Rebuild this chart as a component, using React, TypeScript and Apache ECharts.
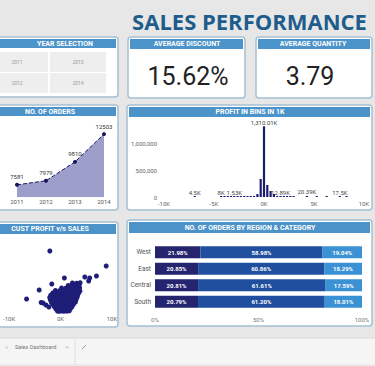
import React, { useEffect, useRef } from 'react';
import * as echarts from 'echarts';

// ---------- data ----------
const years = ['2011', '2012', '2013', '2014'];
const orderCounts = [7581, 7979, 9810, 12503];

const yearButtons = ['2011', '2013', '2012', '2014'];
const avgDiscountPct = 15.62;
const avgQuantity = 3.79;

// profit bins (bin centre in profit units) and bar values
const histBins = [-6930, -4290, -3960, -3630, -3300, -2970, -2640, -2310, -1980, -1650, -1320, -990, -660, -330, 0, 330, 660, 990, 1320, 1650, 1980, 2310, 2640, 2970, 4290, 5280, 6270, 7590, 8250];
const histValues = [4500, 8000, 2000, 1500, 2500, 1530, 3000, 4000, 5000, 7000, 9000, 15000, 55000, 333000, 1310010, 222000, 111000, 55000, 9000, 12890, 6000, 4000, 3000, 2000, 20390, 2000, 1500, 17500, 1000];
const histLabeledBins = [-6930, -4290, -2970, 0, 1650, 4290, 7590];

// customer [profit, sales]
const custProfitSales: [number, number][] = [
  [-2080, 24800], [8870, 18800], [-6600, 5600], [-4150, 9200], [750, 14000], [4720, 14400],
  [5660, 14000], [6980, 14800], [5470, 12800], [3770, 8800], [-1700, 11600], [-3400, 4000],
  [-2830, 3200], [-2260, 2400], [-3770, 4200],
  [-600, 800], [-250, 700], [100, 900], [400, 800], [700, 750], [1000, 850], [1300, 800], [1700, 900],
  [-900, 1600], [-400, 1500], [0, 1700], [300, 1600], [650, 1550], [1100, 1650], [1500, 1600], [1900, 1700],
  [-1200, 2500], [-700, 2400], [-300, 2600], [200, 2500], [500, 2450], [900, 2550], [1400, 2500], [1800, 2600], [2200, 2400],
  [-1500, 3400], [-1000, 3300], [-500, 3500], [0, 3400], [400, 3350], [800, 3450], [1200, 3400], [1700, 3500], [2100, 3300], [2500, 3400],
  [-1800, 4300], [-1100, 4200], [-600, 4400], [-100, 4300], [300, 4250], [700, 4350], [1200, 4300], [1600, 4400], [2000, 4200], [2500, 4300], [2900, 4400],
  [-2000, 5300], [-1400, 5200], [-700, 5400], [100, 5300], [600, 5250], [1000, 5350], [1500, 5300], [2100, 5400], [2600, 5200], [3000, 5300],
  [-2100, 6200], [-1500, 6100], [-800, 6300], [0, 6200], [500, 6150], [1100, 6250], [1700, 6200], [2300, 6300], [2800, 6100], [3200, 6200],
  [-1900, 7100], [-1200, 7000], [-500, 7200], [300, 7100], [900, 7050], [1500, 7150], [2100, 7100], [2700, 7200], [3300, 7000],
  [-1500, 8000], [-800, 7900], [0, 8100], [700, 8000], [1400, 7950], [2000, 8050], [2600, 8000], [3100, 8100], [3500, 7900],
  [-1000, 9000], [-200, 8900], [600, 9100], [1300, 9000], [2000, 8950], [2700, 9050], [3300, 9000],
  [200, 10000], [1000, 9900], [1800, 10100], [2500, 10000], [3200, 9950], [3700, 10050],
  [1500, 11000], [2300, 10900], [3000, 11100], [3600, 11000],
  [2300, 12000], [3100, 11900], [3800, 12100],
];

const regions = ['West', 'East', 'Central', 'South'];
const categories = ['Furniture', 'Office Supplies', 'Technology'];
const furnitureShare = [21.98, 20.85, 20.81, 20.79];
const officeShare = [58.98, 60.86, 61.61, 61.2];
const techShare = [19.04, 18.29, 17.59, 18.01];

// ---------- styles ----------
const BG = '#e7e7e7';
const PANEL_FILL = '#ffffff';
const PANEL_STROKE = '#a6c0d2';
const HEADER = '#4b93c9';
const NAVY = '#1c1c6e';
const HFONT = 'bold 7px Roboto';

function panel(x: number, y: number, w: number, h: number, title: string, titleX: number, headerH = 10) {
  return [
    {
      type: 'rect', silent: true, z: 0,
      shape: { x, y, width: w, height: h, r: 3 },
      style: { fill: PANEL_FILL, stroke: PANEL_STROKE, lineWidth: 1.5 },
    },
    {
      type: 'rect', silent: true, z: 1,
      shape: { x: x + 2, y: y + 2, width: w - 4, height: headerH },
      style: { fill: HEADER },
    },
    {
      type: 'text', silent: true, z: 2,
      x: titleX, y: y + 2 + headerH / 2,
      style: {
        text: title, fill: '#ffffff', font: HFONT,
        align: 'center', verticalAlign: 'middle', textAlign: 'center', textVerticalAlign: 'middle',
      },
    },
  ];
}

function txt(x: number, y: number, text: string, font: string, fill: string, align = 'center') {
  return {
    type: 'text', silent: true, z: 3, x, y,
    style: { text, font, fill, align, verticalAlign: 'middle', textAlign: align, textVerticalAlign: 'middle' },
  };
}

export default function App() {
  const ref = useRef<HTMLDivElement>(null);

  useEffect(() => {
    if (!ref.current) return;
    const chart = echarts.init(ref.current, null, { renderer: 'svg' });

    const yearCells: any[] = [];
    const cellPos = [
      [-4, 52, 52, 20], [50, 52, 56, 20], [-4, 73, 52, 20], [50, 73, 56, 20],
    ];
    yearButtons.forEach((yr, i) => {
      const [cx, cy, cw, ch] = cellPos[i];
      yearCells.push({
        type: 'rect', silent: true, z: 1,
        shape: { x: cx, y: cy, width: cw, height: ch },
        style: { fill: '#eeeeee' },
      });
      yearCells.push(txt(i % 2 === 0 ? 17 : 78, cy + ch / 2, yr, '5px Roboto', '#9a9a9a'));
    });

    const histData = histBins.map((b, i) => {
      const item: any = { value: [b, histValues[i]] };
      if (histLabeledBins.includes(b)) item.label = { show: true };
      return item;
    });

    const graphicEls: any[] = [
      // bottom strip
      { type: 'rect', silent: true, z: 0, shape: { x: 0, y: 338, width: 375, height: 28 }, style: { fill: '#f5f5f5' } },
      { type: 'line', silent: true, z: 1, shape: { x1: 0, y1: 338, x2: 375, y2: 338 }, style: { stroke: '#dadada', lineWidth: 1 } },
      { type: 'line', silent: true, z: 1, shape: { x1: 0, y1: 365, x2: 375, y2: 365 }, style: { stroke: '#e2e2e2', lineWidth: 1 } },
      { type: 'line', silent: true, z: 1, shape: { x1: 75, y1: 338, x2: 75, y2: 365 }, style: { stroke: '#e0e0e0', lineWidth: 1 } },
      txt(7, 347, '≡', '5px Roboto', '#999999'),
      txt(15, 347, 'Sales Dashboard', '5.5px Roboto', '#777777', 'left'),
      { type: 'polyline', silent: true, z: 1, shape: { points: [[65.5, 346.5], [67, 348], [68.5, 346.5]] }, style: { stroke: '#999999', lineWidth: 0.7, fill: 'none' } },
      { type: 'line', silent: true, z: 1, shape: { x1: 82, y1: 349, x2: 86, y2: 345 }, style: { stroke: '#888888', lineWidth: 0.8 } },
      // title
      txt(249.5, 20.5, 'SALES PERFORMANCE', 'bold 22px "Open Sans"', '#1e5d8b'),
      // panels
      ...panel(-8, 37, 126, 60, 'YEAR SELECTION', 65, 9),
      ...yearCells,
      ...panel(128, 37, 117, 61, 'AVERAGE DISCOUNT', 187),
      txt(188, 76.5, avgDiscountPct.toFixed(2) + '%', '25px Roboto', '#222222'),
      ...panel(256, 37, 116, 61, 'AVERAGE QUANTITY', 313),
      txt(310, 76.5, avgQuantity.toFixed(2), '25px Roboto', '#222222'),
      ...panel(-8, 105, 126, 105, 'NO. OF ORDERS', 50, 9),
      ...panel(127, 105, 245, 105, 'PROFIT IN BINS IN 1K', 250),
      ...panel(-8, 222, 126, 105, 'CUST PROFIT v/s SALES', 50, 10),
      ...panel(127, 220, 245, 106, 'NO. OF ORDERS BY REGION & CATEGORY', 250, 11),
    ];

    const axisLabelBase = { fontSize: 6, color: '#666666', fontFamily: 'Roboto' };

    chart.setOption({
      animation: false,
      backgroundColor: BG,
      graphic: { elements: graphicEls },
      grid: [
        { left: 17, top: 129, width: 87, height: 68 },
        { left: 164, top: 116, width: 200, height: 81 },
        { left: 4, top: 238, width: 108, height: 75 },
        { left: 155, top: 244, width: 207, height: 66 },
      ],
      xAxis: [
        {
          gridIndex: 0, type: 'category', data: years, boundaryGap: false,
          axisLine: { show: false }, axisTick: { show: false },
          axisLabel: { ...axisLabelBase, color: '#555555', margin: 1 },
        },
        {
          gridIndex: 1, type: 'value', min: -10000, max: 10000, interval: 5000,
          axisLine: { show: false }, axisTick: { show: false }, splitLine: { show: false },
          axisLabel: { ...axisLabelBase, margin: 3, formatter: (v: number) => v / 1000 + 'K' },
        },
        {
          gridIndex: 2, type: 'value', min: -10000, max: 10000, interval: 10000,
          axisLine: { show: false }, axisTick: { show: false }, splitLine: { show: false },
          axisLabel: { ...axisLabelBase, margin: 2, formatter: (v: number) => v / 1000 + 'K' },
        },
        {
          gridIndex: 3, type: 'value', min: 0, max: 100, interval: 50,
          axisLine: { show: false }, axisTick: { show: false }, splitLine: { show: false },
          axisLabel: { ...axisLabelBase, color: '#777777', margin: 6, formatter: '{value}%' },
        },
      ],
      yAxis: [
        {
          gridIndex: 0, type: 'value', min: 6400, max: 13000,
          axisLine: { show: false }, axisTick: { show: false }, splitLine: { show: false }, axisLabel: { show: false },
        },
        {
          gridIndex: 1, type: 'value', min: 0, max: 1500000, interval: 500000,
          axisLine: { show: false }, axisTick: { show: false }, splitLine: { show: false },
          axisLabel: {
            ...axisLabelBase, margin: 7, showMaxLabel: false,
            formatter: (v: number) => v.toLocaleString('en-US'),
          },
        },
        {
          gridIndex: 2, type: 'value', min: 0, max: 30000,
          axisLine: { show: false }, axisTick: { show: false }, splitLine: { show: false }, axisLabel: { show: false },
        },
        {
          gridIndex: 3, type: 'category', data: regions, inverse: true,
          axisLine: { show: false }, axisTick: { show: false },
          axisLabel: { ...axisLabelBase, fontSize: 6.5, color: '#555555', margin: 4 },
        },
      ],
      series: [
        {
          type: 'line', xAxisIndex: 0, yAxisIndex: 0, data: orderCounts,
          symbol: 'circle', symbolSize: 4,
          itemStyle: { color: '#15155c' },
          lineStyle: { color: '#1a1a5e', width: 1, type: 'dashed' },
          areaStyle: { color: '#9e9ecb', opacity: 1 },
          label: { show: true, position: 'top', distance: 3, fontSize: 6, color: '#333333', fontFamily: 'Roboto' },
        },
        {
          type: 'bar', xAxisIndex: 1, yAxisIndex: 1, data: histData,
          barWidth: 2.2, barMinHeight: 1,
          itemStyle: { color: NAVY },
          label: {
            show: false, position: 'top', distance: 1, fontSize: 6, color: '#444444', fontFamily: 'Roboto',
            formatter: (p: any) => (p.value[1] / 1000).toLocaleString('en-US', { maximumFractionDigits: 2 }) + 'K',
          },
        },
        {
          type: 'scatter', xAxisIndex: 2, yAxisIndex: 2, data: custProfitSales,
          symbolSize: 5, itemStyle: { color: '#1e1e78', opacity: 1 },
        },
        ...[furnitureShare, officeShare, techShare].map((arr, i) => ({
          type: 'bar', name: categories[i], xAxisIndex: 3, yAxisIndex: 3, stack: 'region',
          data: arr, barWidth: 12,
          itemStyle: { color: ['#25256f', '#1f4f9e', '#3a92d4'][i] },
          label: {
            show: true, position: 'inside', color: '#ffffff', fontSize: 6, fontWeight: 'bold', fontFamily: 'Roboto',
            formatter: (p: any) => Number(p.value).toFixed(2) + '%',
          },
        })),
      ],
    });

    return () => chart.dispose();
  }, []);

  return (
    <div
      ref={ref}
      style={{ position: 'fixed', left: 0, top: 0, width: 375, height: 366 }}
    />
  );
}
